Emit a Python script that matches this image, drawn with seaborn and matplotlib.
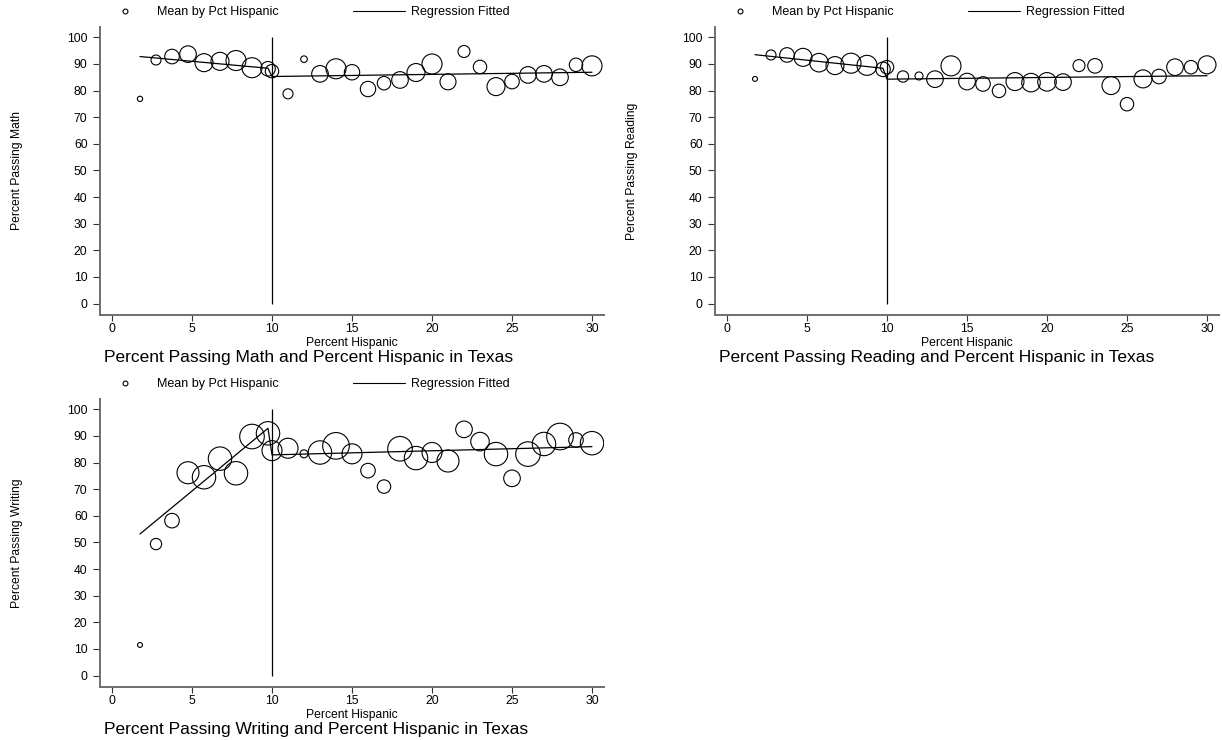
import numpy as np
import pandas as pd
import matplotlib
matplotlib.use("Agg")
import matplotlib.pyplot as plt
from matplotlib.lines import Line2D
import seaborn as sns

# ---------------- data ----------------
pct_hispanic = [1.75, 2.75, 3.75, 4.75, 5.75, 6.75, 7.75, 8.75, 9.75, 10,
                11, 12, 13, 14, 15, 16, 17, 18, 19, 20,
                21, 22, 23, 24, 25, 26, 27, 28, 29, 30]

math_mean = [76.9, 91.5, 92.8, 93.7, 90.5, 91.0, 91.3, 88.6, 88.2, 87.3,
             78.8, 91.8, 86.3, 88.2, 86.9, 80.6, 82.8, 84.0, 86.8, 90.0,
             83.3, 94.7, 88.9, 81.5, 83.4, 85.9, 86.3, 85.0, 89.7, 89.3]
math_weight = [7, 25, 53, 69, 81, 81, 100, 100, 53, 45,
               25, 11, 69, 100, 59, 59, 45, 69, 81, 100,
               64, 36, 45, 81, 53, 69, 69, 69, 45, 100]
math_fit_x = [1.75, 9.75, 10, 30]
math_fit_y = [92.8, 88.4, 85.3, 86.9]

reading_mean = [84.4, 93.4, 93.4, 92.5, 90.5, 89.4, 90.3, 89.5, 88.0, 88.8,
                85.3, 85.5, 84.3, 89.3, 83.4, 82.5, 79.9, 83.4, 83.0, 83.3,
                83.2, 89.4, 89.3, 81.9, 74.9, 84.4, 85.3, 88.8, 88.8, 89.7]
reading_weight = [6, 25, 53, 81, 86, 81, 100, 100, 53, 45,
                  32, 16, 69, 100, 69, 53, 45, 81, 86, 86,
                  69, 36, 53, 81, 45, 81, 53, 69, 45, 81]
reading_fit_x = [1.75, 9.75, 10, 30]
reading_fit_y = [93.5, 88.4, 84.3, 85.6]

writing_mean = [11.5, 49.4, 58.2, 76.2, 74.5, 81.5, 76.0, 89.8, 91.0, 84.5,
                85.4, 83.3, 83.8, 86.3, 83.3, 77.0, 71.0, 85.2, 81.7, 83.8,
                80.6, 92.5, 87.9, 83.2, 74.1, 83.2, 87.0, 89.8, 88.5, 87.3]
writing_weight = [6, 32, 53, 121, 137, 137, 137, 151, 137, 100,
                  100, 16, 137, 177, 100, 53, 45, 151, 137, 100,
                  121, 69, 86, 137, 69, 151, 137, 177, 53, 137]
writing_fit_x = [1.75, 9.75, 10, 30]
writing_fit_y = [53.2, 92.9, 82.9, 86.0]

cutoff = 10
x_ticks = [0, 5, 10, 15, 20, 25, 30]
y_ticks = [0, 10, 20, 30, 40, 50, 60, 70, 80, 90, 100]

panels = [
    ("Percent Passing Math", "Percent Passing Math and Percent Hispanic in Texas",
     math_mean, math_weight, math_fit_x, math_fit_y),
    ("Percent Passing Reading", "Percent Passing Reading and Percent Hispanic in Texas",
     reading_mean, reading_weight, reading_fit_x, reading_fit_y),
    ("Percent Passing Writing", "Percent Passing Writing and Percent Hispanic in Texas",
     writing_mean, writing_weight, writing_fit_x, writing_fit_y),
]

# ---------------- style ----------------
sns.set_theme(style="ticks")
plt.rcParams["font.family"] = ["Liberation Sans", "DejaVu Sans"]
plt.rcParams["text.color"] = "black"
plt.rcParams["axes.labelcolor"] = "black"
plt.rcParams["xtick.color"] = "black"
plt.rcParams["ytick.color"] = "black"

W, H = 1222, 740
fig = plt.figure(figsize=(W / 100, H / 100), dpi=100)

# axes boxes in pixels: (left, top, right, bottom)
boxes = [(100, 27, 604, 315), (715, 27, 1219, 315), (100, 399, 604, 687)]

PX2PT = 0.72  # 1 px at 100 dpi in points
spine_col = "#6e6e6e"

for (ylab, title, ymean, wts, fx, fy), (l, t, r, b) in zip(panels, boxes):
    ax = fig.add_axes([l / W, 1 - b / H, (r - l) / W, (b - t) / H])
    df = pd.DataFrame({"x": pct_hispanic, "y": ymean, "w": wts})
    wmin, wmax = min(wts), max(wts)
    k = (2 * PX2PT) ** 2
    sns.scatterplot(data=df, x="x", y="y", size="w",
                    sizes=(wmin * k, wmax * k), size_norm=(wmin, wmax),
                    facecolor="none", edgecolor="black", linewidth=0.8,
                    legend=False, ax=ax)
    sns.lineplot(x=fx, y=fy, estimator=None, sort=False, color="black",
                 linewidth=0.9, ax=ax)
    ax.vlines(cutoff, 0, 100, color="black", linewidth=0.9)

    ax.set_xlim(-0.75, 30.75)
    ax.set_ylim(-4.3, 103.9)
    ax.set_xticks(x_ticks)
    ax.set_yticks(y_ticks)
    ax.tick_params(axis="both", labelsize=8.7, color="#333333", width=0.8,
                   labelcolor="black")
    ax.tick_params(axis="x", length=4, pad=2)
    ax.tick_params(axis="y", length=5, pad=4)
    for side in ("top", "right"):
        ax.spines[side].set_visible(False)
    for side in ("left", "bottom"):
        ax.spines[side].set_color(spine_col)
        ax.spines[side].set_linewidth(1.4)

    ax.set_xlabel("Percent Hispanic", fontsize=8.7, labelpad=0, color="black")
    ax.xaxis.set_label_coords(0.5, -0.078)
    ax.set_ylabel(ylab, fontsize=8.7, color="black")
    ax.yaxis.set_label_coords(-0.153, 0.5)
    ax.text(0.008, -0.146, title, transform=ax.transAxes, fontsize=12.5,
            ha="left", va="center", color="black")

    handles = [
        Line2D([], [], marker="o", linestyle="none", markerfacecolor="none",
               markeredgecolor="black", markersize=3.5, markeredgewidth=0.8),
        Line2D([], [], color="black", linewidth=0.8),
    ]
    leg_y = t - 15
    leg = fig.legend(handles, ["Mean by Pct Hispanic", "Regression Fitted"],
                     loc="center left", bbox_to_anchor=((l - 1) / W, 1 - leg_y / H),
                     bbox_transform=fig.transFigure, ncol=2, frameon=False,
                     fontsize=9, handlelength=4.2, handletextpad=0.45,
                     columnspacing=5.9, borderpad=0, borderaxespad=0)
    for txt in leg.get_texts():
        txt.set_color("black")

fig.savefig("out.png", dpi=100)
